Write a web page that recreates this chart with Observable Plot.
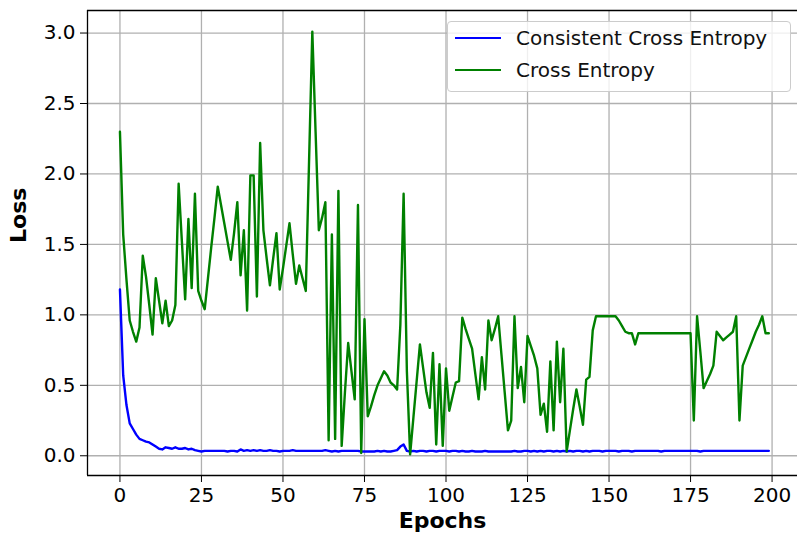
<!DOCTYPE html>
<html>
<head>
<meta charset="utf-8">
<script src="https://cdn.jsdelivr.net/npm/d3@7"></script>
<script src="https://cdn.jsdelivr.net/npm/@observablehq/plot@0.6"></script>
<style>
html, body { margin: 0; padding: 0; background: #fff; }
#wrap { position: relative; width: 797px; height: 540px; overflow: hidden; }
#legend { position: absolute; left: 447px; top: 21px; width: 342px; height: 69px;
  background: rgba(255,255,255,0.8); border: 1px solid #cccccc; border-radius: 4px;
  font-family: "DejaVu Sans", sans-serif; font-size: 20px; color: #111; }
.item { position: absolute; left: 7px; height: 24px; line-height: 24px; display: flex; align-items: center; white-space: nowrap; }
.sw { width: 46px; height: 2.5px; margin-right: 15px; }
</style>
</head>
<body>
<div id="wrap">
  <div id="chart"></div>
  <div id="legend"></div>
</div>
<script>
// ---- data ----
const seriesNames = ["Consistent Cross Entropy", "Cross Entropy"];
const seriesColors = ["#0000ff", "#008000"];

const consistentLoss = [
  1.18, 0.57, 0.36, 0.23, 0.19, 0.15, 0.12, 0.11, 0.10, 0.095,
  0.08, 0.065, 0.05, 0.045, 0.06, 0.055, 0.05, 0.06, 0.05, 0.05,
  0.055, 0.045, 0.05, 0.04, 0.035, 0.03, 0.035, 0.035, 0.035, 0.035,
  0.035, 0.035, 0.035, 0.03, 0.035, 0.035, 0.03, 0.045, 0.035, 0.04,
  0.035, 0.04, 0.035, 0.04, 0.035, 0.035, 0.04, 0.035, 0.035, 0.03,
  0.035, 0.035, 0.035, 0.04, 0.035, 0.035, 0.035, 0.035, 0.035, 0.035,
  0.035, 0.035, 0.035, 0.04, 0.035, 0.03, 0.035, 0.03, 0.035, 0.035,
  0.035, 0.035, 0.035, 0.035, 0.03, 0.03, 0.03, 0.03, 0.03, 0.035,
  0.03, 0.035, 0.03, 0.03, 0.035, 0.04, 0.065, 0.08, 0.035, 0.03,
  0.035, 0.03, 0.035, 0.035, 0.03, 0.035, 0.035, 0.03, 0.035, 0.035,
  0.035, 0.03, 0.035, 0.035, 0.03, 0.035, 0.03, 0.03, 0.035, 0.03,
  0.03, 0.03, 0.035, 0.03, 0.03, 0.03, 0.03, 0.03, 0.03, 0.03,
  0.03, 0.035, 0.03, 0.03, 0.035, 0.035, 0.03, 0.035, 0.03, 0.035,
  0.03, 0.035, 0.035, 0.03, 0.035, 0.03, 0.035, 0.03, 0.035, 0.03,
  0.035, 0.035, 0.03, 0.035, 0.03, 0.035, 0.035, 0.035, 0.03, 0.035,
  0.035, 0.035, 0.035, 0.03, 0.035, 0.035, 0.035, 0.03, 0.035, 0.035,
  0.035, 0.035, 0.035, 0.035, 0.035, 0.035, 0.03, 0.035, 0.035, 0.035,
  0.035, 0.035, 0.035, 0.035, 0.035, 0.035, 0.035, 0.035, 0.03, 0.035,
  0.035, 0.035, 0.035, 0.035, 0.035, 0.035, 0.035, 0.035, 0.035, 0.035,
  0.035, 0.035, 0.035, 0.035, 0.035, 0.035, 0.035, 0.035, 0.035, 0.035
];

const crossEntropyLoss = [
  2.30, 1.57, 1.25, 0.96, 0.88, 0.81, 0.91, 1.42, 1.27, 1.07,
  0.86, 1.26, 1.10, 0.94, 1.10, 0.92, 0.96, 1.07, 1.93, 1.52,
  1.11, 1.68, 1.19, 1.86, 1.17, 1.10, 1.04, 1.26, 1.48, 1.69,
  1.91, 1.78, 1.65, 1.52, 1.39, 1.58, 1.80, 1.28, 1.60, 1.03,
  1.99, 1.99, 1.13, 2.22, 1.60, 1.40, 1.21, 1.40, 1.58, 1.18,
  1.33, 1.49, 1.65, 1.43, 1.22, 1.35, 1.26, 1.17, 2.09, 3.01,
  2.30, 1.60, 1.69, 1.80, 0.11, 1.57, 0.12, 1.88, 0.07, 0.45,
  0.80, 0.60, 0.40, 1.78, 0.02, 0.97, 0.28, 0.35, 0.43, 0.50,
  0.55, 0.60, 0.57, 0.52, 0.50, 0.47, 0.93, 1.86, 0.60, 0.01,
  0.27, 0.53, 0.79, 0.62, 0.45, 0.34, 0.73, 0.08, 0.65, 0.07,
  0.62, 0.32, 0.42, 0.52, 0.53, 0.98, 0.90, 0.83, 0.76, 0.58,
  0.40, 0.70, 0.47, 0.96, 0.82, 0.90, 0.99, 0.72, 0.45, 0.18,
  0.25, 0.99, 0.48, 0.63, 0.38, 0.85, 0.78, 0.71, 0.62, 0.29,
  0.37, 0.17, 0.67, 0.18, 0.81, 0.38, 0.76, 0.03, 0.18, 0.33,
  0.47, 0.35, 0.22, 0.54, 0.56, 0.89, 0.99, 0.99, 0.99, 0.99,
  0.99, 0.99, 0.99, 0.96, 0.92, 0.88, 0.87, 0.87, 0.79, 0.87,
  0.87, 0.87, 0.87, 0.87, 0.87, 0.87, 0.87, 0.87, 0.87, 0.87,
  0.87, 0.87, 0.87, 0.87, 0.87, 0.87, 0.25, 0.99, 0.74, 0.48,
  0.53, 0.58, 0.64, 0.88, 0.85, 0.82, 0.84, 0.86, 0.88, 0.99,
  0.25, 0.64, 0.70, 0.76, 0.82, 0.88, 0.93, 0.99, 0.87, 0.87
];

const xTicks = [0, 25, 50, 75, 100, 125, 150, 175, 200];
const yTicks = [0.0, 0.5, 1.0, 1.5, 2.0, 2.5, 3.0];
const xLabel = "Epochs";
const yLabel = "Loss";

// ---- build rows ----
const blueRows = consistentLoss.map((v, i) => ({epoch: i, loss: v}));
const greenRows = crossEntropyLoss.map((v, i) => ({epoch: i, loss: v}));

const xDomain = [-9.95, 207.8];
const yDomain = [-0.14, 3.16];

const chart = Plot.plot({
  width: 797,
  height: 540,
  marginLeft: 87,
  marginRight: 0,
  marginTop: 10,
  marginBottom: 65,
  x: {domain: xDomain, ticks: xTicks, tickSize: 7, tickPadding: 5, label: null, tickFormat: d => String(d)},
  y: {domain: yDomain, ticks: yTicks, tickSize: 7, tickPadding: 5, label: null, tickFormat: d3.format(".1f")},
  style: {fontFamily: "DejaVu Sans, sans-serif", fontSize: "20px", color: "#000", background: "#fff"},
  marks: [
    Plot.ruleX(xTicks, {stroke: "#b0b0b0", strokeWidth: 1.3}),
    Plot.ruleY(yTicks, {stroke: "#b0b0b0", strokeWidth: 1.3}),
    Plot.line(blueRows, {x: "epoch", y: "loss", stroke: seriesColors[0], strokeWidth: 2.4}),
    Plot.line(greenRows, {x: "epoch", y: "loss", stroke: seriesColors[1], strokeWidth: 2.4}),
    Plot.ruleX([xDomain[0]], {stroke: "#000", strokeWidth: 1.3}),
    Plot.ruleY(yDomain, {stroke: "#000", strokeWidth: 1.3}),
    Plot.text([xLabel], {frameAnchor: "bottom", dy: 52, fontSize: 22, fontWeight: "bold", fill: "#000"}),
    Plot.text([yLabel], {frameAnchor: "left", dx: -69, rotate: -90, fontSize: 22, fontWeight: "bold", fill: "#000"})
  ]
});
document.getElementById("chart").appendChild(chart);

// ---- legend ----
const legend = document.getElementById("legend");
seriesNames.forEach((name, i) => {
  const item = document.createElement("div");
  item.className = "item";
  item.style.top = (i === 0 ? 4 : 36) + "px";
  const sw = document.createElement("div");
  sw.className = "sw";
  sw.style.background = seriesColors[i];
  const label = document.createElement("span");
  label.textContent = name;
  item.appendChild(sw);
  item.appendChild(label);
  legend.appendChild(item);
});
</script>
</body>
</html>
